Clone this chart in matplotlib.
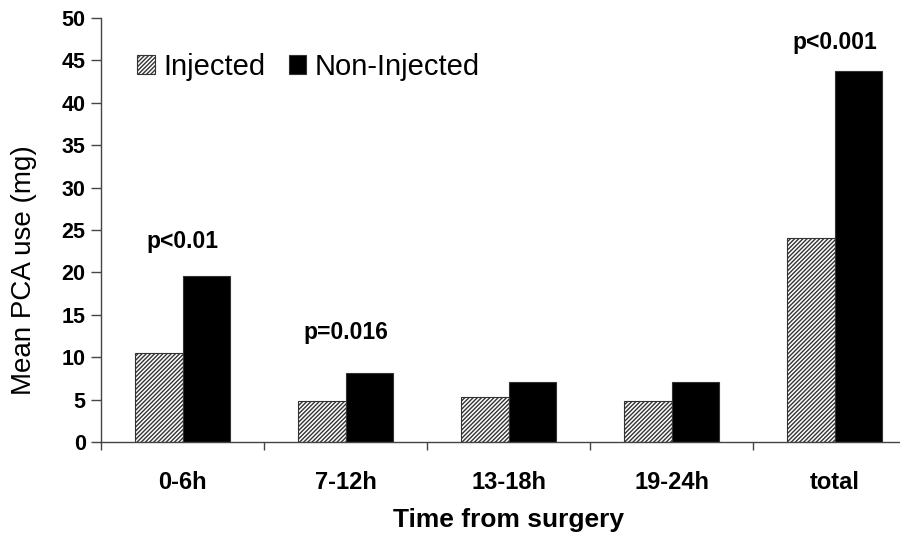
import numpy as np
import matplotlib
matplotlib.use("Agg")
import matplotlib.pyplot as plt

plt.rcParams["font.family"] = ["Liberation Sans", "DejaVu Sans"]
plt.rcParams["hatch.linewidth"] = 1.0

periods = ["0-6h", "7-12h", "13-18h", "19-24h", "total"]
injected = [10.5, 4.8, 5.3, 4.8, 24.1]
non_injected = [19.6, 8.1, 7.1, 7.1, 43.7]
p_labels = ["p<0.01", "p=0.016", None, None, "p<0.001"]
p_heights = [23.6, 12.9, None, None, 47.1]

fig = plt.figure(figsize=(9, 5.41), dpi=100)
# axes run a little past the right edge of the figure
ax = fig.add_axes([101 / 900, 99 / 541, 815 / 900, 424 / 541])

x = np.arange(len(periods)) + 0.5
w = 0.29
ax.bar(x - w / 2, injected, w, color="white", edgecolor="#333333",
       hatch="////////", linewidth=0.8, label="Injected")
ax.bar(x + w / 2, non_injected, w, color="black", edgecolor="#333333",
       linewidth=0.8, label="Non-Injected")

for xi, lab, h in zip(x, p_labels, p_heights):
    if lab:
        ax.text(xi, h, lab, ha="center", va="center", fontsize=16.5,
                fontweight="bold")

ax.set_xlim(0, len(periods))
ax.set_ylim(0, 50)
ax.set_yticks(np.arange(0, 51, 5))
ax.set_xticks(np.arange(len(periods) + 1))
ax.set_xticklabels([])
ax.set_xticks(x, minor=True)
ax.set_xticklabels(periods, minor=True)
ax.tick_params(axis="x", which="minor", length=0, pad=21, labelsize=17)
ax.tick_params(axis="x", which="major", length=6, width=1, color="#444444")
ax.tick_params(axis="y", length=7, width=1, color="#444444", labelsize=15.5, pad=4)
for lab in ax.get_xticklabels(minor=True) + ax.get_yticklabels():
    lab.set_fontweight("bold")

for s in ["top", "right"]:
    ax.spines[s].set_visible(False)
for s in ["left", "bottom"]:
    ax.spines[s].set_color("#444444")
    ax.spines[s].set_linewidth(1)

ax.set_ylabel("Mean PCA use (mg)", fontsize=20)
ax.yaxis.set_label_coords(-0.079, 0.405)
ax.set_xlabel("Time from surgery", fontsize=19, fontweight="bold")
ax.xaxis.set_label_coords(0.5, -0.155)

ax.legend(loc="upper left", bbox_to_anchor=(0.03, 0.945), ncol=2, frameon=False,
          fontsize=21, handlelength=0.6, handleheight=0.6, handletextpad=0.3,
          columnspacing=0.8, borderaxespad=0)

fig.savefig("out.png", dpi=100, facecolor="white")
